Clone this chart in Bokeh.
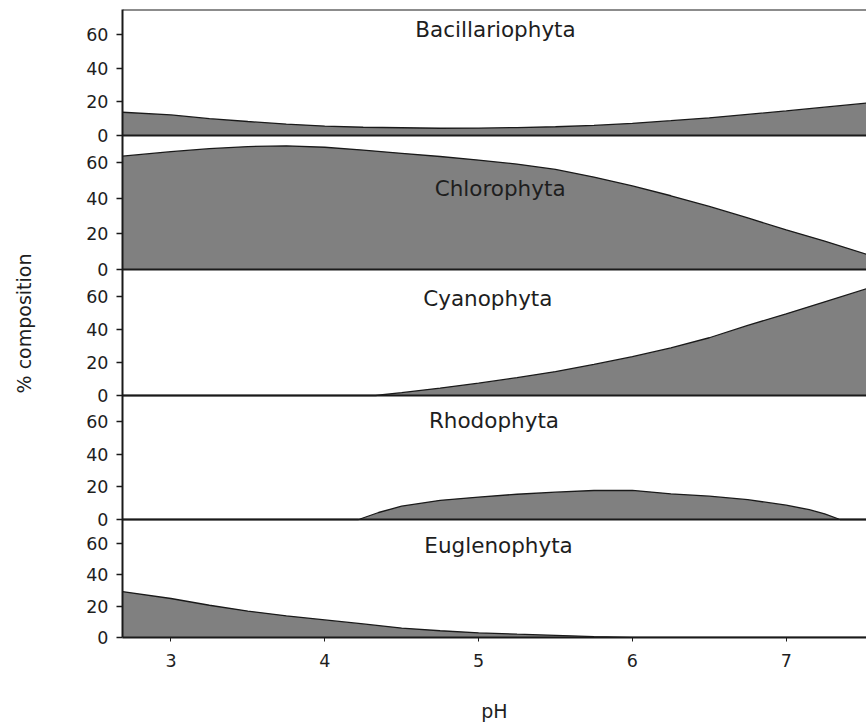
from bokeh.plotting import figure
from bokeh.models import Range1d, Span, FixedTicker
from bokeh.core.properties import value
from bokeh.embed import file_html
from bokeh.resources import INLINE

# ---- data ----
names = ["Bacillariophyta", "Chlorophyta", "Cyanophyta", "Rhodophyta", "Euglenophyta"]

ph_bac = [2.685, 3.0, 3.25, 3.5, 3.75, 4.0, 4.25, 4.5, 4.75, 5.0, 5.25, 5.5, 5.75, 6.0, 6.25, 6.5, 6.75, 7.0, 7.25, 7.522]
bac = [13.8, 12.2, 10.0, 8.3, 6.8, 5.6, 4.9, 4.6, 4.3, 4.4, 4.7, 5.2, 6.0, 7.2, 8.8, 10.5, 12.5, 14.6, 16.8, 19.2]

ph_chl = [2.685, 3.0, 3.25, 3.5, 3.75, 4.0, 4.25, 4.5, 4.75, 5.0, 5.25, 5.5, 5.75, 6.0, 6.25, 6.5, 6.75, 7.0, 7.25, 7.522]
chl = [63.8, 66.3, 68.0, 69.2, 69.6, 68.8, 67.2, 65.4, 63.6, 61.6, 59.3, 56.3, 52.0, 47.0, 41.5, 35.5, 29.0, 22.3, 16.0, 8.6]

ph_cya = [2.685, 4.33, 4.5, 4.75, 5.0, 5.25, 5.5, 5.75, 6.0, 6.25, 6.5, 6.75, 7.0, 7.25, 7.522]
cya = [0, 0, 1.7, 4.5, 7.5, 10.8, 14.5, 18.8, 23.5, 28.8, 35.0, 42.5, 49.5, 56.8, 64.7]

ph_rho = [2.685, 4.22, 4.35, 4.5, 4.75, 5.0, 5.25, 5.5, 5.75, 6.0, 6.25, 6.5, 6.75, 7.0, 7.15, 7.25, 7.35, 7.522]
rho = [0, 0, 4.3, 8.2, 11.8, 13.8, 15.5, 16.8, 17.8, 17.9, 15.8, 14.3, 12.2, 8.8, 6.0, 3.5, 0, 0]

ph_eug = [2.685, 3.0, 3.25, 3.5, 3.75, 4.0, 4.25, 4.5, 4.75, 5.0, 5.25, 5.5, 5.75, 6.0, 7.522]
eug = [29.2, 24.8, 20.5, 16.8, 13.8, 11.2, 8.6, 6.0, 4.3, 3.0, 2.1, 1.4, 0.6, 0, 0]

y_ticks = [0, 20, 40, 60]
x_ticks = [3, 4, 5, 6, 7]

series = [(ph_bac, bac), (ph_chl, chl), (ph_cya, cya), (ph_rho, rho), (ph_eug, eug)]

# ---- layout / style ----
label_x = [5.11, 5.14, 5.06, 5.10, 5.13]
label_y = [63.2, 45.7, 58.8, 60.8, 58.7]
FRAME_H = 628
band_bottom = [502, 368, 242, 118, 0]          # panel baselines, px above frame bottom
px_per_unit = [1.685, 1.777, 1.65, 1.628, 1.573]

FONT = "DejaVu Sans"
TXT = "#1e1e1e"
LINE = "#1a1a1a"
FILL = "#808080"

W, H = 866, 727
TOP = 9
p = figure(width=W, height=H, x_range=Range1d(2.685, 7.522), y_range=Range1d(0, FRAME_H),
           output_backend="svg", toolbar_location=None,
           min_border_left=122, min_border_right=0, min_border_top=TOP,
           min_border_bottom=H - TOP - FRAME_H, outline_line_color=None,
           background_fill_color="white", border_fill_color="white")
p.grid.visible = False

tick_pos = []
overrides = {}
for i, (name, (xs, ys)) in enumerate(zip(names, series)):
    b0, s = band_bottom[i], px_per_unit[i]
    p.extra_y_ranges[name] = Range1d(-b0 / s, (FRAME_H - b0) / s)
    p.varea(x=xs, y1=0, y2=ys, fill_color=FILL, fill_alpha=1.0, y_range_name=name)
    p.line(x=xs, y=ys, line_color=LINE, line_width=1.3, y_range_name=name)
    p.text(x=[label_x[i]], y=[label_y[i]], text=[name], text_font=value(FONT),
           text_font_size="21.5px", text_color=TXT, text_align="center",
           text_baseline="middle", y_range_name=name)
    if i < len(names) - 1:
        p.add_layout(Span(location=0, dimension="width", line_color=LINE,
                          line_width=2, y_range_name=name))
    for t in y_ticks:
        pos = int(round(b0 + t * s))
        tick_pos.append(pos)
        overrides[pos] = str(t)

p.add_layout(Span(location=FRAME_H, dimension="width", line_color=LINE, line_width=2))

ya = p.yaxis[0]
ya.ticker = FixedTicker(ticks=sorted(tick_pos))
ya.major_label_overrides = overrides
ya.minor_tick_line_color = None
ya.major_tick_out = 6
ya.major_tick_in = 0
ya.major_tick_line_color = LINE
ya.major_tick_line_width = 1.5
ya.axis_line_color = LINE
ya.axis_line_width = 2
ya.major_label_text_font = FONT
ya.major_label_text_font_size = "17.5px"
ya.major_label_text_color = TXT
ya.major_label_standoff = 8
ya.axis_label = "% composition"
ya.axis_label_text_font = FONT
ya.axis_label_text_font_size = "19px"
ya.axis_label_text_font_style = "normal"
ya.axis_label_text_color = TXT
ya.axis_label_standoff = 48

xa = p.xaxis[0]
xa.ticker = FixedTicker(ticks=x_ticks)
xa.minor_tick_line_color = None
xa.major_tick_out = 4
xa.major_tick_in = 0
xa.major_tick_line_color = LINE
xa.axis_line_color = LINE
xa.axis_line_width = 2
xa.major_label_text_font = FONT
xa.major_label_text_font_size = "17.5px"
xa.major_label_text_color = TXT
xa.major_label_standoff = 12
xa.axis_label = "pH"
xa.axis_label_text_font = FONT
xa.axis_label_text_font_size = "19px"
xa.axis_label_text_font_style = "normal"
xa.axis_label_text_color = TXT
xa.axis_label_standoff = 30

open("out.html", "w").write(file_html(p, INLINE))
